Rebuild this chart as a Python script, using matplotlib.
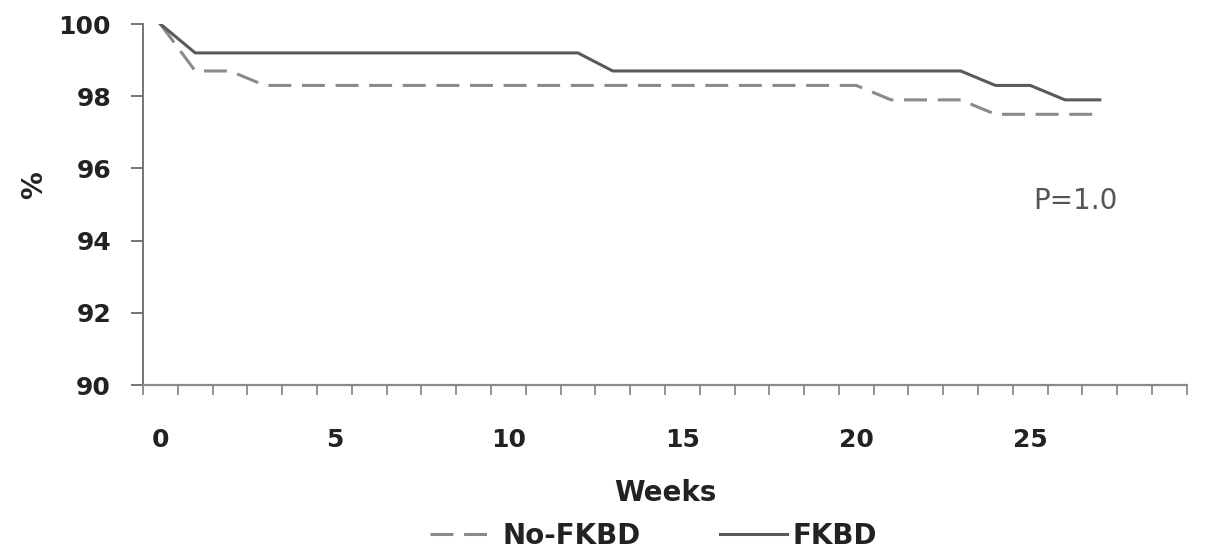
import numpy as np
import matplotlib
matplotlib.use("Agg")
import matplotlib.pyplot as plt
from matplotlib.ticker import FixedLocator

plt.rcParams["font.family"] = ["DejaVu Sans"]

# Survival (%) by week
weeks = list(range(0, 28))
no_fkbd = [100, 98.7, 98.7] + [98.3] * 18 + [97.9] * 3 + [97.5] * 4
fkbd = [100] + [99.2] * 12 + [98.7] * 11 + [98.3] * 2 + [97.9] * 2
xtick_labels = [0, 5, 10, 15, 20, 25]
yticks = [90, 92, 94, 96, 98, 100]
p_text = "P=1.0"

fig = plt.figure(figsize=(12.06, 5.59), dpi=100)
ax = fig.add_axes([0.1186, 0.311, 0.8655, 0.646])

axis_col = "#6a6a6a"
ax.plot(weeks, no_fkbd, color="#8a8a8a", lw=2.2, dashes=(7.5, 3.5), label="No-FKBD")
ax.plot(weeks, fkbd, color="#5a5a5a", lw=2.2, label="FKBD")

ax.set_xlim(-0.5, 29.5)
ax.set_ylim(90, 100)
ax.set_yticks(yticks)
ax.xaxis.set_major_locator(FixedLocator(xtick_labels))
ax.xaxis.set_minor_locator(FixedLocator(np.arange(-0.5, 30, 1)))
ax.tick_params(axis="x", which="major", length=0, pad=31, labelsize=18)
ax.tick_params(axis="x", which="minor", length=7, width=1.3, color="#8a8a8a", direction="out")
ax.tick_params(axis="y", length=9, width=1.3, color=axis_col, pad=14, labelsize=18)
for lab in ax.get_xticklabels() + ax.get_yticklabels():
    lab.set_fontweight("bold")
    lab.set_color("#222222")

for s in ["top", "right"]:
    ax.spines[s].set_visible(False)
ax.spines["left"].set_color(axis_col)
ax.spines["bottom"].set_color("#8a8a8a")
ax.spines["left"].set_linewidth(1.3)
ax.spines["bottom"].set_linewidth(1.6)

ax.set_xlabel("Weeks", fontsize=20, fontweight="bold", color="#222222", labelpad=19)
ax.set_ylabel("%", fontsize=20, fontweight="bold", color="#222222")
ax.yaxis.set_label_coords(-0.091, 0.554)

ax.text(26.3, 95.1, p_text, fontsize=20, color="#555555", ha="center", va="center")

leg = fig.legend(loc="lower center", bbox_to_anchor=(0.542, -0.028), ncol=2, frameon=False,
                 handlelength=2.4, columnspacing=2.85, handletextpad=0.2,
                 prop={"size": 20, "weight": "bold"})
for t in leg.get_texts():
    t.set_color("#222222")

fig.savefig("out.png", dpi=100)
